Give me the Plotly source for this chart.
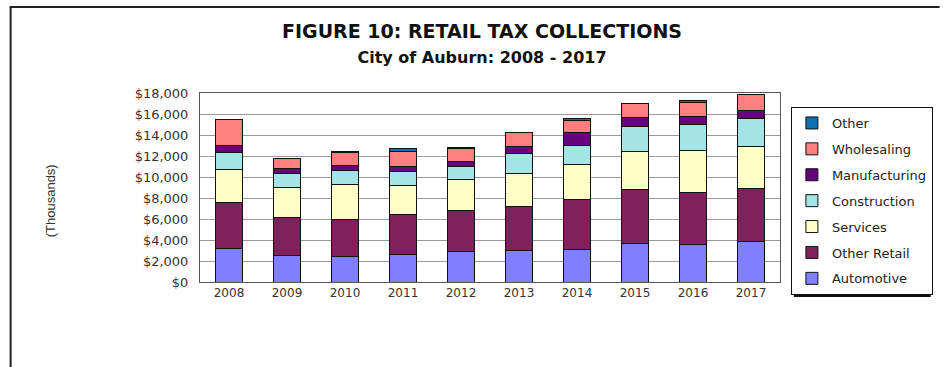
import plotly.graph_objects as go

years = ["2008", "2009", "2010", "2011", "2012", "2013", "2014", "2015", "2016", "2017"]
automotive = [3200, 2500, 2400, 2600, 2900, 3000, 3100, 3700, 3600, 3900]
other_retail = [4400, 3600, 3600, 3800, 3900, 4200, 4800, 5100, 4900, 5000]
services = [3100, 2900, 3300, 2800, 3000, 3100, 3300, 3600, 4000, 4000]
construction = [1600, 1300, 1300, 1300, 1200, 1900, 1800, 2400, 2500, 2700]
manufacturing = [700, 500, 500, 500, 450, 700, 1200, 900, 800, 750]
wholesaling = [2500, 1000, 1200, 1400, 1300, 1300, 1200, 1300, 1300, 1500]
other = [0, 0, 100, 300, 100, 0, 200, 0, 200, 50]

series = [
    ("Automotive", automotive, "#8080FF"),
    ("Other Retail", other_retail, "#80215E"),
    ("Services", services, "#FFFFC6"),
    ("Construction", construction, "#A3E4E4"),
    ("Manufacturing", manufacturing, "#66037A"),
    ("Wholesaling", wholesaling, "#FF7F7F"),
    ("Other", other, "#1070B0"),
]

fig = go.Figure()
n = len(series)
for i, (name, vals, col) in enumerate(series):
    fig.add_trace(go.Bar(
        x=years, y=vals, name=name, legendgroup=name, legendrank=n - i,
        marker=dict(color=col, line=dict(color="#111", width=1)),
        width=0.45,
    ))

L, R, T, B = 200, 160, 93, 85
W, H = 945, 367
pw, ph = W - L - R, H - T - B

def px_x(x):
    return (x - L) / pw

def px_y(y):
    return (H - B - y) / ph

WIDE = "DejaVu Sans, Verdana, sans-serif"

fig.update_layout(
    width=W, height=H,
    margin=dict(l=L, r=R, t=T, b=B),
    barmode="stack",
    paper_bgcolor="white", plot_bgcolor="white",
    font=dict(family=WIDE, color="#222"),
    showlegend=True,
    legend=dict(
        x=px_x(796), y=px_y(107), xanchor="left", yanchor="top",
        traceorder="grouped", tracegroupgap=6,
        bgcolor="white", bordercolor="#111", borderwidth=1,
        font=dict(family=WIDE, size=13, color="#222"), itemwidth=30,
    ),
    xaxis=dict(
        type="category", range=[-0.5, 9.5],
        showgrid=False, showline=True, linecolor="#555", mirror=True,
        ticks="", tickfont=dict(family=WIDE, size=12, color="#333"),
    ),
    yaxis=dict(
        range=[0, 18000], dtick=2000, tickprefix="$", tickformat=",d",
        showgrid=True, gridcolor="#999", gridwidth=1,
        showline=True, linecolor="#555", mirror=True,
        ticks="", tickfont=dict(family=WIDE, size=13, color="#333"), ticklabelstandoff=8,
        zeroline=False,
    ),
    annotations=[
        dict(text="<b>FIGURE 10: RETAIL TAX COLLECTIONS</b><br>"
                  "<span style='font-size:16px'><b>City of Auburn: 2008 - 2017</b></span>",
             x=px_x(484), y=px_y(44),
             xref="paper", yref="paper", xanchor="center", yanchor="middle", showarrow=False,
             font=dict(family=WIDE, size=19, color="#111")),
        dict(text="(Thousands)", x=px_x(49), y=px_y(201), textangle=-90,
             xref="paper", yref="paper", xanchor="center", yanchor="middle", showarrow=False,
             font=dict(family="Liberation Sans, Arial, sans-serif", size=13, color="#333")),
    ],
    shapes=[
        dict(type="line", xref="paper", yref="paper", x0=px_x(8), x1=px_x(946),
             y0=px_y(7), y1=px_y(7), line=dict(color="#222", width=2)),
        dict(type="line", xref="paper", yref="paper", x0=px_x(9), x1=px_x(9),
             y0=px_y(7), y1=px_y(368), line=dict(color="#222", width=2)),
        dict(type="rect", xref="paper", yref="paper", x0=px_x(799), x1=px_x(937),
             y0=px_y(111), y1=px_y(297), fillcolor="#111", line=dict(width=0)),
    ],
)

fig.write_html("out.html", config={"displayModeBar": False},
               post_script="document.body.style.margin='0';")
